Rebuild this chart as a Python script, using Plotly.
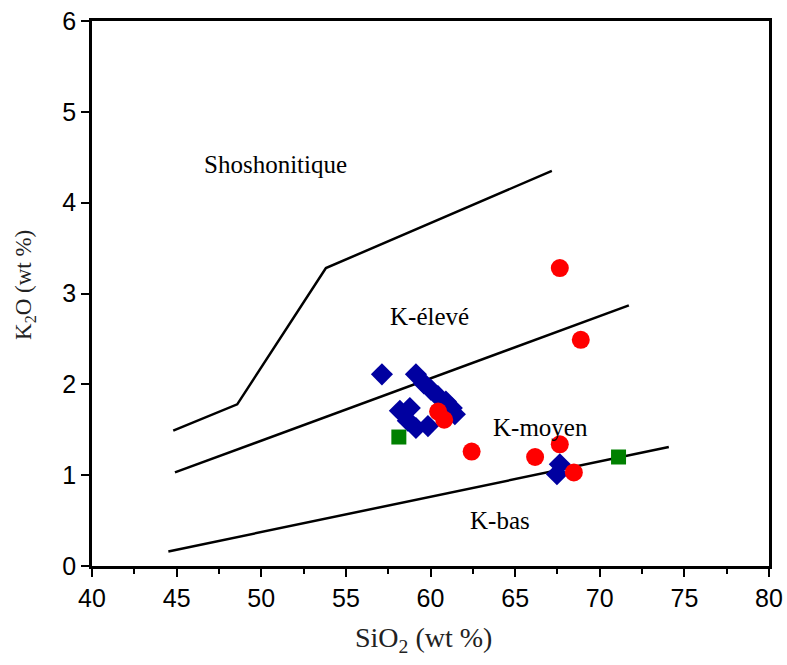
import plotly.graph_objects as go

# Sample compositions (SiO2 wt %, K2O wt %)
red_sio2 = [67.64, 68.88, 60.45, 60.81, 62.43, 66.18, 67.64, 68.47]
red_k2o = [3.28, 2.49, 1.70, 1.61, 1.26, 1.20, 1.34, 1.03]

blue_sio2 = [57.13, 59.14, 59.61, 60.02, 60.44, 60.91, 61.26, 61.44,
             58.19, 58.78, 58.66, 59.14, 59.85, 67.47, 67.64]
blue_k2o = [2.11, 2.11, 2.01, 1.94, 1.87, 1.81, 1.74, 1.67,
            1.71, 1.74, 1.60, 1.52, 1.54, 1.01, 1.12]

green_sio2 = [58.13, 71.11]
green_k2o = [1.42, 1.20]

# Series boundaries
shosho_x = [44.80, 48.58, 53.82, 67.17]
shosho_y = [1.49, 1.78, 3.28, 4.35]
highk_x = [44.90, 71.72]
highk_y = [1.03, 2.87]
lowk_x = [44.51, 74.08]
lowk_y = [0.16, 1.31]

# Field labels
field_names = ["Shoshonitique", "K-élevé", "K-moyen", "K-bas"]
field_x = [50.85, 59.95, 66.50, 64.10]
field_y = [4.42, 2.75, 1.53, 0.50]

x_ticks = [40, 45, 50, 55, 60, 65, 70, 75, 80]
y_ticks = [0, 1, 2, 3, 4, 5, 6]

serif = "Times New Roman, Liberation Serif, serif"
sans = "Arial, Liberation Sans, sans-serif"

fig = go.Figure()

for bx, by in [(shosho_x, shosho_y), (highk_x, highk_y), (lowk_x, lowk_y)]:
    fig.add_trace(go.Scatter(x=bx, y=by, mode="lines",
                             line=dict(color="black", width=2.5),
                             hoverinfo="skip", showlegend=False))

fig.add_trace(go.Scatter(x=blue_sio2, y=blue_k2o, mode="markers",
                         marker=dict(symbol="diamond", size=17, color="#0000A0",
                                     line=dict(width=0)),
                         showlegend=False))
fig.add_trace(go.Scatter(x=red_sio2, y=red_k2o, mode="markers",
                         marker=dict(symbol="circle", size=18, color="#FF0000",
                                     line=dict(width=0)),
                         showlegend=False))
fig.add_trace(go.Scatter(x=green_sio2, y=green_k2o, mode="markers",
                         marker=dict(symbol="square", size=15, color="#008000",
                                     line=dict(width=0)),
                         showlegend=False))

for name, fx, fy in zip(field_names, field_x, field_y):
    fig.add_annotation(x=fx, y=fy, text=name, showarrow=False,
                       font=dict(family=serif, size=25, color="black"))

# Axis titles
fig.add_annotation(x=0.49, y=-0.135, xref="paper", yref="paper",
                   xanchor="center", yanchor="middle", showarrow=False,
                   text="SiO<sub>2</sub> (wt %)",
                   font=dict(family=serif, size=28, color="#222222"))
fig.add_annotation(x=-0.098, y=0.515, xref="paper", yref="paper",
                   xanchor="center", yanchor="middle", showarrow=False,
                   textangle=-90, text="K<sub>2</sub>O (wt %)",
                   font=dict(family=serif, size=23, color="#222222"))

fig.update_xaxes(range=[40, 80], tickvals=x_ticks, ticks="outside", ticklen=8,
                 tickwidth=2, tickcolor="black", showline=True, linecolor="black",
                 linewidth=2.5, mirror=True, showgrid=False, zeroline=False,
                 automargin=False,
                 tickfont=dict(family=sans, size=25, color="black"),
                 minor=dict(tickvals=[42.5, 47.5, 52.5, 57.5, 62.5, 67.5, 72.5, 77.5],
                            ticks="outside", ticklen=5, tickwidth=2, tickcolor="black"))
fig.update_yaxes(range=[0, 6], tickvals=y_ticks, ticks="outside", ticklen=8,
                 tickwidth=2, tickcolor="black", showline=True, linecolor="black",
                 linewidth=2.5, mirror=True, showgrid=False, zeroline=False,
                 automargin=False,
                 tickfont=dict(family=sans, size=25, color="black"))

fig.update_layout(width=787, height=665, autosize=False,
                  plot_bgcolor="white", paper_bgcolor="white",
                  margin=dict(l=92, r=18, t=21, b=99))

fig.write_html("out.html")
